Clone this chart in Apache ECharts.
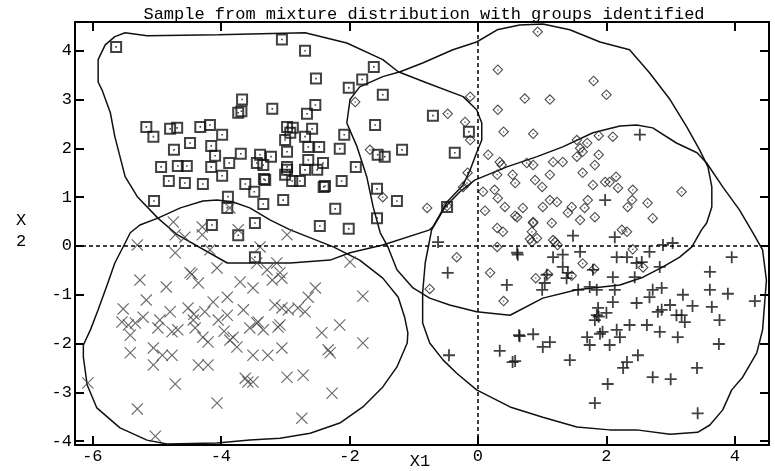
<!DOCTYPE html>
<html>
<head>
<meta charset="utf-8">
<script src="https://cdn.jsdelivr.net/npm/echarts@6/dist/echarts.min.js"></script>
<style>html,body{margin:0;background:#fff}#chart{width:775px;height:471px}</style>
</head>
<body>
<div id="chart"></div>
<script>
const FONT = '"Liberation Mono", "DejaVu Sans Mono", monospace';

const titleText = 'Sample from mixture distribution with groups identified';
const xTicks = [-6, -4, -2, 0, 2, 4];
const yTicks = [-4, -3, -2, -1, 0, 1, 2, 3, 4];

// group 1 (squares, upper left)
const squarePts = [
  [-5.63,4.08],[-3.67,3.00],[-3.73,2.73],[-3.68,2.76],
  [-5.16,2.44],[-5.05,2.24],[-4.79,2.40],[-4.68,2.42],[-4.32,2.44],[-4.17,2.48],[-3.98,2.28],
  [-4.48,2.11],[-4.73,1.97],[-4.15,2.05],[-4.09,1.85],[-3.69,1.89],
  [-4.93,1.62],[-4.67,1.64],[-4.53,1.64],[-4.15,1.62],[-3.87,1.70],[-3.98,1.44],
  [-4.81,1.33],[-4.56,1.29],[-4.28,1.27],[-3.62,1.27],[-3.48,1.11],[-3.89,1.01],
  [-5.04,0.92],[-4.14,0.43],[-3.90,0.78],
  [-3.20,2.81],[-2.53,2.89],[-2.66,2.71],
  [-3.33,1.37],[-3.34,0.86],[-3.03,0.94],
  [-3.39,1.87],[-3.22,1.83],[-3.44,1.70],[-3.34,1.66],
  [-2.97,2.44],[-2.88,2.42],[-2.92,2.32],[-3.00,2.17],[-2.69,2.24],[-2.58,2.40],
  [-2.97,1.93],[-2.64,2.03],[-2.47,2.03],[-2.64,1.76],[-2.41,1.70],
  [-2.97,1.62],[-2.97,1.56],[-3.00,1.46],[-2.89,1.33],[-2.77,1.33],[-2.69,1.56],[-2.50,1.56],[-2.40,1.21],[-2.22,0.76],
  [-3.05,4.23],[-2.69,4.00],[-1.62,3.67],[-2.52,3.43],[-1.80,3.41],[-2.01,3.24],[-1.48,3.10],
  [-0.70,2.67],[-1.60,2.48],[-2.08,2.28],[-0.14,2.34],
  [-2.15,1.99],[-1.18,1.97],[-1.56,1.87],[-1.45,1.83],[-0.36,1.91],
  [-1.90,1.62],[-3.31,1.35],[-2.12,1.33],[-2.38,1.23],
  [-1.57,1.17],[-1.26,0.92],[-0.48,0.80],[-1.57,0.57],[-2.46,0.41],[-2.01,0.35],[-3.47,0.47],
  [-3.47,-0.23],[-3.73,0.22]
];

// group 2 (diamonds, upper right)
const diamondPts = [
  [0.31,3.61],[-0.12,3.06],[0.31,2.79],[0.40,2.34],[-0.47,2.71],[-0.20,2.54],[-0.12,2.17],[-1.91,2.95],[-1.68,1.97],
  [0.16,1.87],[0.34,1.72],[0.37,1.66],[0.54,1.46],[0.58,1.29],[-0.16,1.50],[-0.17,1.29],[0.08,1.11],[0.26,1.15],
  [0.31,0.98],[0.11,0.72],[0.42,0.80],[0.61,0.59],[0.30,0.37],[0.39,0.29],[-0.79,0.78],[-0.48,0.82],[-1.48,1.00],[-0.23,1.21],
  [0.93,4.39],[1.80,3.38],[2.00,3.10],[0.73,3.02],[1.12,3.00],[0.86,2.30],[1.54,2.17],[1.70,2.11],[1.88,2.26],[2.10,2.24],
  [1.59,2.00],[1.63,1.93],[1.88,1.87],[1.54,1.83],[1.17,1.72],[1.32,1.72],[1.82,1.66],[0.76,1.70],[0.86,1.66],[1.12,1.46],
  [1.63,1.50],[0.89,1.35],[1.00,1.21],[1.79,1.25],[1.98,1.31],[2.05,1.31],[2.15,1.42],[2.18,1.19],[2.41,1.15],[2.40,0.94],
  [3.17,1.11],[1.12,0.94],[1.23,0.90],[1.01,0.80],[0.70,0.78],[0.58,0.62],[1.46,0.80],[1.40,0.68],[1.66,0.78],[1.71,0.94],
  [1.82,0.59],[1.59,0.53],[2.64,0.88],[2.72,0.57],[2.33,0.80],[1.15,0.47],[0.86,0.47],[2.24,0.33],[2.32,0.29],
  [0.30,1.46],[0.86,0.49],[0.84,0.29],[0.81,0.14],[0.92,0.16],[0.84,0.08],[1.20,0.08],[1.24,0.02],[0.30,-0.02],
  [-0.33,-0.23],[0.19,-0.55],[-0.75,-0.88],[1.63,-0.36],[1.81,-0.47],[0.90,-0.66],[1.09,-0.58],[1.46,-0.61],
  [2.41,-0.07],[2.57,-0.44],[1.17,0.12],[0.40,-1.13]
];

// group 3 (crosses, lower left)
const crossPts = [
  [-5.30,0.02],[-4.71,0.23],[-4.71,-0.14],[-4.56,0.18],[-4.29,0.23],[-4.17,-0.08],[-4.06,-0.45],[-4.48,-0.55],[-4.45,-0.58],
  [-4.35,-0.76],[-5.26,-0.70],[-4.85,-0.84],[-5.16,-1.11],
  [-5.52,-1.29],[-5.54,-1.56],[-5.44,-1.62],[-5.33,-1.58],[-5.21,-1.46],[-5.41,-1.83],[-4.79,-1.35],[-4.95,-1.52],
  [-4.98,-1.68],[-4.76,-1.76],[-4.67,-1.72],[-4.51,-1.27],[-4.43,-1.52],[-4.40,-1.68],[-4.25,-1.35],[-4.28,-1.87],
  [-4.20,-1.97],[-4.12,-1.15],[-3.90,-1.05],[-3.90,-1.42],[-4.04,-1.52],[-3.86,-1.93],[-3.95,-1.75],[-4.42,-1.40],
  [-3.70,-0.74],[-3.50,-0.86],[-3.65,-1.31],[-3.55,-1.68],[-3.81,-1.87],[-3.75,-2.07],[-3.42,-1.56],[-3.44,-0.35],
  [-3.28,-0.49],[-3.13,-0.35],[-3.08,-0.55],[-3.20,-0.70],[-3.05,-0.66],[-3.39,-0.02],[-2.97,0.23],
  [-3.16,-1.21],[-3.05,-1.27],[-2.95,-1.31],[-2.80,-1.27],[-2.69,-1.35],[-2.53,-0.86],[-2.64,-1.05],[-3.08,-1.62],
  [-3.27,-2.24],[-3.05,-2.09],[-3.50,-2.24],
  [-5.41,-2.19],[-5.05,-2.09],[-5.05,-2.44],[-4.91,-2.24],[-4.76,-2.24],[-4.35,-2.44],[-4.20,-2.44],[-2.43,-1.78],
  [-2.33,-2.13],[-2.97,-2.69],[-2.72,-2.65],[-3.62,-2.71],
  [-1.99,-0.33],[-1.79,-1.03],[-2.15,-1.62],[-1.79,-1.99],[-2.30,-2.19],[-2.27,-3.02],[-2.74,-3.53],[-3.50,-2.79],
  [-3.34,-1.72],[-3.11,-1.66],[-3.44,-1.58],
  [-6.07,-2.81],[-5.30,-3.34],[-5.02,-3.90],[-4.71,-2.83],[-4.06,-3.22],[-3.58,-2.79],
  [-4.74,0.49],[-4.29,0.39],[-3.86,0.78],[-3.73,0.33]
];

// group 4 (plus signs, lower right)
const plusPts = [
  [1.48,0.21],[2.13,0.18],[2.88,0.02],[3.03,0.06],[0.62,-0.18],[1.17,-0.23],[1.32,-0.18],[1.59,-0.12],[2.16,-0.23],
  [2.32,-0.23],[2.47,-0.35],[2.55,-0.33],[2.67,-0.12],[2.83,-0.43],[3.95,-0.23],
  [1.32,-0.43],[1.40,-0.55],[1.38,-0.66],[2.44,-0.64],[2.10,-0.64],[1.00,-0.90],[1.56,-0.90],[1.74,-0.84],[1.85,-0.90],
  [2.13,-0.90],[3.61,-0.53],[3.61,-0.90],[3.89,-0.98],[4.31,-1.13],
  [2.72,-0.90],[2.86,-0.86],[2.67,-1.05],[3.19,-1.00],[3.34,-1.23],[3.64,-1.25],[2.47,-1.17],[2.10,-1.15],
  [1.87,-1.27],[1.85,-1.42],[1.82,-1.52],[1.88,-1.45],[2.00,-1.37],[2.99,-1.21],[2.86,-1.31],[2.80,-1.35],[3.09,-1.42],
  [3.17,-1.42],[3.22,-1.56],[3.76,-1.52],
  [2.83,-1.76],[2.63,-1.62],[2.36,-1.62],[2.16,-1.72],[2.21,-1.87],[1.94,-1.76],[1.70,-1.87],[1.74,-2.03],[1.90,-1.80],
  [2.05,-2.03],[3.11,-1.87],[3.75,-2.01],
  [0.65,-1.85],[0.86,-1.81],[1.01,-2.07],[1.12,-1.97],[0.58,-2.36],[1.43,-2.34],[2.49,-2.24],[2.32,-2.38],[2.26,-2.50],
  [3.41,-2.50],[2.72,-2.69],[3.00,-2.73],[2.02,-2.83],[1.82,-3.22],[3.42,-3.43],
  [-0.62,0.08],[-0.47,-0.55],[-0.45,-2.24],[0.34,-2.15],[0.54,-2.38],[0.61,-0.14],[0.45,-0.80],[0.64,-1.83],
  [2.52,2.28],[1.98,0.94],[1.07,-0.59],[1.04,-0.76],[1.79,-0.49]
];

// density contours, one per group (closed)
const contourSquare = [
  [-5.49,4.37],[-5.15,4.31],[-4.04,4.33],[-2.69,4.37],[-2.04,4.16],[-1.48,3.82],[-1.24,3.57],[-0.79,3.34],[-0.23,3.06],
  [-0.02,2.79],[0.06,2.52],[0.06,2.17],[-0.02,1.91],[-0.12,1.56],[-0.23,1.25],[-0.48,0.90],[-0.70,0.39],[-0.75,0.33],
  [-1.48,0.02],[-1.99,-0.14],[-2.30,-0.29],[-2.92,-0.35],[-3.90,-0.35],[-4.68,0.23],[-4.98,0.57],[-5.30,1.01],
  [-5.49,1.42],[-5.57,1.83],[-5.65,2.24],[-5.72,2.73],[-5.85,3.20],[-5.91,3.36],[-5.91,3.82],[-5.80,4.12],[-5.65,4.29],
  [-5.49,4.37]
];
const contourDiamond = [
  [-2.04,2.52],[-1.99,3.00],[-1.84,3.26],[-1.48,3.47],[-1.21,3.57],[-0.86,3.75],[-0.39,4.02],[-0.02,4.18],[0.30,4.43],
  [0.65,4.53],[1.01,4.55],[1.43,4.43],[1.90,4.18],[2.36,4.02],[2.67,3.55],[2.99,3.00],[3.25,2.44],[3.45,1.97],
  [3.58,1.62],[3.64,1.21],[3.64,0.80],[3.56,0.47],[3.48,0.33],[3.33,-0.02],[3.14,-0.23],[2.88,-0.43],[2.57,-0.64],
  [2.21,-0.80],[1.54,-0.90],[1.01,-1.07],[0.50,-1.42],[-0.02,-1.35],[-0.44,-1.21],[-0.75,-1.07],[-1.01,-0.86],
  [-1.26,-0.49],[-1.40,-0.02],[-1.52,0.27],[-1.63,0.80],[-1.73,1.42],[-1.88,2.03],[-2.04,2.52]
];
const contourCross = [
  [-5.49,0.06],[-5.41,0.27],[-5.26,0.43],[-4.98,0.57],[-4.63,0.78],[-4.28,0.92],[-4.06,0.94],[-3.81,0.90],[-3.55,0.78],
  [-3.23,0.53],[-2.92,0.33],[-2.25,-0.02],[-1.84,-0.29],[-1.48,-0.66],[-1.24,-1.05],[-1.14,-1.46],[-1.09,-1.78],
  [-1.10,-1.99],[-1.26,-2.48],[-1.48,-2.89],[-1.79,-3.30],[-2.15,-3.63],[-2.61,-3.84],[-3.08,-3.94],[-3.55,-3.98],
  [-4.06,-4.04],[-4.84,-4.06],[-5.15,-3.98],[-5.57,-3.73],[-5.93,-3.32],[-6.08,-2.85],[-6.14,-2.28],[-6.14,-2.03],
  [-6.03,-1.72],[-5.91,-1.31],[-5.77,-0.80],[-5.65,-0.35],[-5.49,0.06]
];
const contourPlus = [
  [-0.72,0.33],[-0.51,0.80],[-0.28,1.11],[-0.05,1.35],[0.45,1.62],[0.92,1.83],[1.32,2.03],[1.79,2.32],[2.21,2.46],
  [2.47,2.48],[2.72,2.42],[3.09,2.11],[3.41,1.91],[3.56,1.70],[3.81,1.21],[4.07,0.74],[4.28,0.27],[4.43,-0.08],
  [4.49,-0.70],[4.43,-1.72],[4.34,-2.19],[4.12,-2.69],[3.95,-2.95],[3.81,-3.36],[3.61,-3.67],[3.42,-3.82],[2.99,-3.86],
  [2.47,-3.77],[2.05,-3.77],[1.54,-3.71],[1.01,-3.51],[0.50,-3.30],[-0.02,-2.95],[-0.33,-2.61],[-0.54,-2.34],
  [-0.75,-1.99],[-0.86,-1.58],[-0.86,-0.96],[-0.82,-0.35],[-0.72,0.33]
];

// marker glyphs: outline with a centre dot (inner ring wound the other way)
const SYM_SQUARE = 'path://M0,0L12,0L12,12L0,12Z M2,2L2,10L10,10L10,2Z M5.2,5.2L6.8,5.2L6.8,6.8L5.2,6.8Z';
const SYM_DIAMOND = 'path://M6,0L12,6L6,12L0,6Z M6,1.7L1.7,6L6,10.3L10.3,6Z M5.3,5.3L6.7,5.3L6.7,6.7L5.3,6.7Z';
const SYM_CROSS = 'path://M0,0.8L0.8,0L6,5.2L11.2,0L12,0.8L6.8,6L12,11.2L11.2,12L6,6.8L0.8,12L0,11.2L5.2,6Z';
const SYM_PLUS = 'path://M5.1,0H6.9V5.1H12V6.9H6.9V12H5.1V6.9H0V5.1H5.1Z';

const chart = echarts.init(document.getElementById('chart'));

const AXIS_LINE = { show: true, onZero: false, lineStyle: { color: '#000', width: 2 } };
const TICK = { inside: true, length: 9, lineStyle: { color: '#000', width: 2 } };
const LABEL = { color: '#000', fontFamily: FONT, fontSize: 17, margin: 3 };

const scatter = (data, symbol, size, color) => ({
  type: 'scatter', data, symbol, symbolSize: size, itemStyle: { color }, z: 3
});
const contour = (data) => ({
  type: 'line', data, showSymbol: false, symbol: 'none',
  lineStyle: { color: '#111', width: 1.5 }, z: 2
});

chart.setOption({
  animation: false,
  grid: { left: 75, right: 6, top: 22, bottom: 26 },
  xAxis: [
    { type: 'value', min: -6.27, max: 4.53, axisLine: AXIS_LINE, splitLine: { show: false },
      axisTick: { ...TICK, customValues: xTicks },
      axisLabel: { ...LABEL, customValues: xTicks } },
    { type: 'value', position: 'top', min: -6.27, max: 4.53, axisLine: AXIS_LINE, splitLine: { show: false },
      axisTick: { ...TICK, customValues: xTicks }, axisLabel: { show: false } }
  ],
  yAxis: [
    { type: 'value', min: -4.08, max: 4.59, axisLine: AXIS_LINE, splitLine: { show: false },
      axisTick: { ...TICK, customValues: yTicks },
      axisLabel: { ...LABEL, customValues: yTicks } },
    { type: 'value', position: 'right', min: -4.08, max: 4.59, axisLine: AXIS_LINE, splitLine: { show: false },
      axisTick: { ...TICK, customValues: yTicks }, axisLabel: { show: false } }
  ],
  graphic: [
    { type: 'text', x: 424, y: 14, style: { text: titleText, fill: '#000', font: '17px ' + FONT, align: 'center', verticalAlign: 'middle' } },
    { type: 'text', x: 420, y: 461, style: { text: 'X1', fill: '#000', font: '17px ' + FONT, align: 'center', verticalAlign: 'middle' } },
    { type: 'text', x: 21, y: 231, style: { text: 'X\n2', fill: '#000', font: '17px ' + FONT, lineHeight: 21, align: 'center', verticalAlign: 'middle' } }
  ],
  series: [
    {
      ...contour(contourSquare),
      markLine: {
        silent: true, symbol: 'none', label: { show: false },
        lineStyle: { color: '#000', width: 1.5, type: [4, 3] },
        data: [{ xAxis: 0 }, { yAxis: 0 }]
      }
    },
    contour(contourDiamond),
    contour(contourCross),
    contour(contourPlus),
    scatter(squarePts, SYM_SQUARE, 12, '#111'),
    scatter(diamondPts, SYM_DIAMOND, 11, '#222'),
    scatter(crossPts, SYM_CROSS, 12, '#444'),
    scatter(plusPts, SYM_PLUS, 12, '#111')
  ]
});
</script>
</body>
</html>
